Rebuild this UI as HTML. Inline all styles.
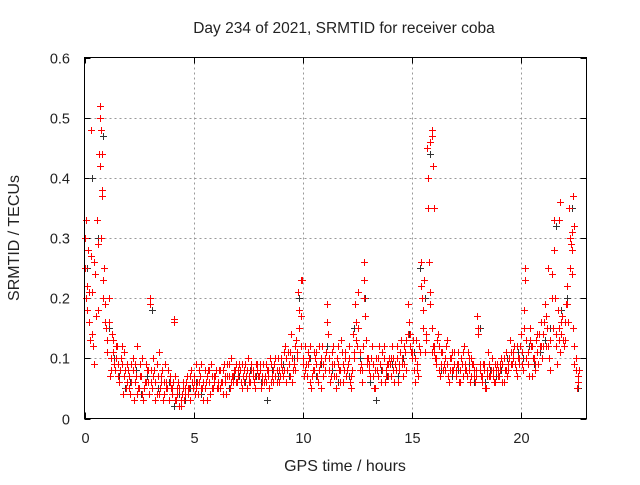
<!DOCTYPE html>
<html><head><meta charset="utf-8"><style>
body{margin:0;background:#fff;}
svg text{font-family:"Liberation Sans",sans-serif;fill:#222;}
</style></head><body>
<svg id="chart" width="640" height="480">
<rect width="640" height="480" fill="#fff"/>
<text x="344" y="33" font-size="15.5" text-anchor="middle">Day 234 of 2021, SRMTID for receiver coba</text>
<text x="0" y="0" font-size="16" text-anchor="middle" transform="translate(19,238) rotate(-90)">SRMTID / TECUs</text>
<text x="345" y="471" font-size="16" text-anchor="middle">GPS time / hours</text>
<g id="grid"></g>
<g id="ticks"></g>
<g id="black"></g>
<g id="red"></g>
<rect x="84.5" y="57.5" width="502" height="361" fill="none" stroke="#000" stroke-width="1"/>
</svg>
<script>
const xTicks=[0,5,10,15,20];
const yTicks=[0,0.1,0.2,0.3,0.4,0.5,0.6];
const yTickLabels=["0","0.1","0.2","0.3","0.4","0.5","0.6"];
const redStep=0.1;
const redA=[0.30,0.22,0.16,0.27,0.12,0.24,0.18,0.50,0.38,0.25,
0.15,0.20,0.10,0.13,0.08,0.12,0.06,0.09,0.11,0.05,
0.08,0.04,0.10,0.06,0.12,0.05,0.07,0.03,0.09,0.06,
0.19,0.05,0.08,0.04,0.11,0.06,0.03,0.09,0.05,0.07,
0.04,0.16,0.03,0.06,0.02,0.05,0.04,0.07,0.05,0.08,
0.06,0.09,0.04,0.07,0.05,0.08,0.03,0.06,0.09,0.05,
0.07,0.05,0.08,0.06,0.09,0.04,0.07,0.10,0.06,0.08,
0.06,0.09,0.05,0.08,0.07,0.10,0.06,0.08,0.05,0.09,
0.07,0.05,0.09,0.06,0.08,0.10,0.07,0.09,0.06,0.08,
0.10,0.07,0.12,0.08,0.11,0.06,0.09,0.13,0.21,0.17,
0.09,0.12,0.07,0.10,0.05,0.08,0.11,0.06,0.09,0.12,
0.08,0.19,0.10,0.07,0.12,0.05,0.09,0.06,0.11,0.08,
0.07,0.10,0.05,0.14,0.19,0.12,0.08,0.06,0.23,0.13,
0.10,0.07,0.09,0.05,0.08,0.12,0.06,0.10,0.08,0.07,
0.09,0.12,0.06,0.10,0.08,0.13,0.07,0.11,0.19,0.14,
0.10,0.08,0.13,0.07,0.26,0.18,0.11,0.45,0.26,0.15,
0.12,0.09,0.14,0.07,0.11,0.08,0.13,0.06,0.10,0.08,
0.07,0.11,0.06,0.09,0.12,0.08,0.10,0.07,0.09,0.06,
0.17,0.08,0.06,0.09,0.05,0.11,0.07,0.08,0.06,0.09,
0.07,0.10,0.06,0.11,0.08,0.13,0.09,0.12,0.07,0.10,
0.14,0.08,0.23,0.11,0.15,0.07,0.10,0.13,0.09,0.16,
0.12,0.19,0.15,0.10,0.24,0.33,0.14,0.18,0.11,0.17,
0.13,0.22,0.35,0.29,0.15,0.10,0.06];
const redB=[0.20,0.28,0.13,0.21,0.09,0.33,0.44,0.30,0.20,0.16,
0.11,0.07,0.14,0.09,0.12,0.07,0.10,0.04,0.08,0.06,
0.05,0.09,0.03,0.07,0.05,0.09,0.04,0.06,0.08,0.04,
0.06,0.10,0.03,0.07,0.05,0.08,0.04,0.06,0.03,0.05,
0.06,0.03,0.05,0.02,0.04,0.03,0.06,0.04,0.03,0.05,
0.04,0.06,0.08,0.05,0.03,0.06,0.08,0.04,0.07,0.06,
0.05,0.08,0.06,0.04,0.07,0.09,0.05,0.07,0.08,0.06,
0.08,0.06,0.07,0.09,0.05,0.07,0.08,0.06,0.09,0.07,
0.09,0.06,0.07,0.08,0.05,0.09,0.06,0.07,0.10,0.07,
0.08,0.11,0.06,0.09,0.14,0.08,0.12,0.10,0.15,0.23,
0.07,0.09,0.11,0.06,0.08,0.10,0.07,0.12,0.05,0.09,
0.11,0.14,0.06,0.09,0.07,0.10,0.08,0.13,0.06,0.10,
0.09,0.06,0.08,0.10,0.16,0.21,0.09,0.12,0.17,0.09,
0.08,0.12,0.05,0.10,0.07,0.09,0.11,0.06,0.09,0.10,
0.07,0.10,0.08,0.06,0.11,0.09,0.12,0.08,0.16,0.11,
0.13,0.06,0.09,0.11,0.20,0.23,0.14,0.35,0.21,0.12,
0.10,0.13,0.08,0.11,0.09,0.12,0.07,0.10,0.08,0.11,
0.09,0.06,0.10,0.07,0.08,0.11,0.06,0.09,0.08,0.07,
0.14,0.07,0.09,0.05,0.08,0.07,0.10,0.06,0.08,0.07,
0.09,0.06,0.08,0.07,0.10,0.09,0.11,0.08,0.10,0.12,
0.09,0.18,0.13,0.07,0.12,0.10,0.08,0.14,0.12,0.10,
0.16,0.12,0.25,0.08,0.15,0.20,0.09,0.13,0.16,0.12,
0.19,0.16,0.25,0.31,0.09,0.05,0.08];
const redC=[0.25,0.18,0.21,0.14,0.26,0.17,0.29,0.42,0.23,0.19,
0.13,0.16,0.08,0.11,0.10,0.09,0.08,0.12,0.07,0.09,
0.07,0.06,0.08,0.09,0.04,0.07,0.10,0.05,0.06,0.08,
0.08,0.07,0.06,0.09,0.04,0.07,0.06,0.05,0.08,0.06,
0.05,0.07,0.04,0.05,0.03,0.06,0.05,0.05,0.07,0.06,
0.07,0.05,0.06,0.09,0.06,0.05,0.07,0.08,0.05,0.07,
0.08,0.06,0.05,0.08,0.06,0.07,0.09,0.06,0.07,0.09,
0.07,0.08,0.09,0.06,0.08,0.06,0.09,0.07,0.07,0.08,
0.08,0.07,0.06,0.09,0.07,0.06,0.08,0.10,0.08,0.06,
0.09,0.08,0.10,0.11,0.07,0.10,0.08,0.11,0.18,0.12,
0.10,0.08,0.09,0.12,0.07,0.11,0.09,0.08,0.10,0.07,
0.10,0.16,0.08,0.11,0.09,0.07,0.12,0.08,0.09,0.11,
0.08,0.12,0.07,0.11,0.13,0.15,0.11,0.08,0.20,0.10,
0.09,0.10,0.07,0.08,0.10,0.09,0.08,0.12,0.07,0.09,
0.10,0.08,0.09,0.12,0.09,0.10,0.09,0.13,0.14,0.12,
0.11,0.10,0.08,0.12,0.22,0.15,0.13,0.40,0.19,0.11,
0.11,0.10,0.12,0.09,0.08,0.10,0.09,0.08,0.11,0.09,
0.08,0.09,0.08,0.11,0.09,0.07,0.08,0.10,0.07,0.08,
0.15,0.09,0.07,0.08,0.07,0.09,0.08,0.07,0.09,0.08,
0.08,0.09,0.10,0.08,0.09,0.11,0.10,0.09,0.12,0.09,
0.11,0.15,0.10,0.09,0.13,0.12,0.09,0.11,0.14,0.12,
0.14,0.17,0.12,0.13,0.20,0.28,0.12,0.15,0.14,0.13,
0.16,0.19,0.30,0.24,0.12,0.08,0.07];
const spikeTimes=[0.7,0.75,0.8,0.72,0.3,0.05,0.8,3.0,4.1,15.9,15.85,15.95,16.0,15.9,21.8,21.75,22.4,22.45,22.35,9.9,12.8,20.2];
const spikeValues=[0.52,0.48,0.44,0.50,0.48,0.33,0.37,0.20,0.165,0.48,0.46,0.42,0.35,0.47,0.36,0.33,0.37,0.32,0.28,0.23,0.26,0.25];
const blackStep=0.25;
const blackV=[0.25,0.40,0.30,0.47,0.15,0.10,0.07,0.05,0.06,0.08,0.04,0.07,0.18,0.05,0.03,0.06,
0.02,0.04,0.03,0.05,0.06,0.04,0.07,0.05,0.06,0.08,0.05,0.07,0.07,0.06,0.08,0.07,
0.06,0.03,0.08,0.07,0.09,0.07,0.10,0.20,0.08,0.10,0.07,0.09,0.12,0.08,0.06,0.09,
0.07,0.15,0.10,0.20,0.06,0.03,0.08,0.07,0.09,0.07,0.10,0.14,0.11,0.25,0.20,0.44,
0.10,0.08,0.09,0.07,0.08,0.07,0.09,0.06,0.15,0.06,0.08,0.07,0.08,0.10,0.09,0.11,
0.10,0.12,0.09,0.11,0.13,0.15,0.32,0.18,0.20,0.35,0.05];
const X0=84.5,X1=586.5,Y0=418.5,Y1=57.5,XMAX=23,YMAX=0.6;
const sx=v=>X0+(X1-X0)*v/XMAX;
const sy=v=>Y0-(Y0-Y1)*v/YMAX;
const NS="http://www.w3.org/2000/svg";
function mk(tag,attrs,parent){const e=document.createElementNS(NS,tag);for(const k in attrs)e.setAttribute(k,attrs[k]);parent.appendChild(e);return e;}
const grid=document.getElementById('grid'),ticks=document.getElementById('ticks');
xTicks.forEach(t=>{const x=Math.round(sx(t))+0.5;
 if(t>0){const g=mk('line',{x1:x,x2:x,y1:Y1,y2:Y0,stroke:'#999','stroke-dasharray':'2,3'},grid);
 
 }
 const l=mk('text',{x:x,y:443,'font-size':14.5,'text-anchor':'middle'},ticks);l.textContent=t;
 
 
 mk('line',{x1:x,x2:x,y1:Y0,y2:Y0-6,stroke:'#000'},ticks);
 mk('line',{x1:x,x2:x,y1:Y1,y2:Y1+6,stroke:'#000'},ticks);
});
yTicks.forEach((t,i)=>{const y=Math.round(sy(t))+0.5;
 if(t>0&&t<0.6){const g=mk('line',{x1:X0,x2:X1,y1:y,y2:y,stroke:'#999','stroke-dasharray':'2,3'},grid);
 
 }
 const l=mk('text',{x:70,y:y+5,'font-size':14.5,'text-anchor':'end'},ticks);l.textContent=yTickLabels[i];
 
 
 mk('line',{x1:X0,x2:X0+6,y1:y,y2:y,stroke:'#000'},ticks);
 mk('line',{x1:X1,x2:X1-6,y1:y,y2:y,stroke:'#000'},ticks);
});
function plus(g,t,v,col){const x=Math.round(sx(t))+0.5,y=Math.round(sy(v))+0.5;
 const p=mk('path',{d:`M${x-3.5},${y}H${x+3.5}M${x},${y-3.5}V${y+3.5}`,stroke:col,'stroke-width':1,fill:'none'},g);
 return p;}
const bg=document.getElementById('black'),rg=document.getElementById('red');
blackV.forEach((v,i)=>{const p=plus(bg,i*blackStep+0.1,v,'#333');
 
 });
redA.forEach((v,i)=>{const p=plus(rg,i*redStep,v,'#f00');
 
 });
redB.forEach((v,i)=>{const p=plus(rg,i*redStep+0.05,v,'#f00');
 
 });
redC.forEach((v,i)=>{const p=plus(rg,i*redStep+0.025,v,'#f00');
 
 });
spikeTimes.forEach((t,i)=>{const p=plus(rg,t,spikeValues[i],'#f00');
 
 });
</script>
</body></html>
